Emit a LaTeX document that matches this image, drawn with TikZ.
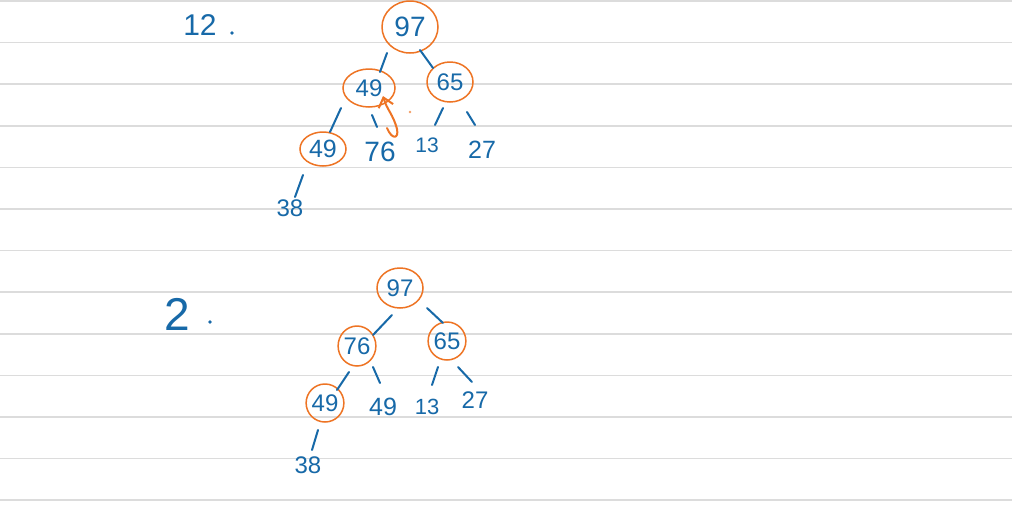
\documentclass[tikz,border=0pt]{standalone}
\usepackage{fontspec}
\setmainfont{Liberation Sans}
\usetikzlibrary{calc,shapes.geometric,arrows.meta}
\definecolor{ink}{HTML}{1769A8}
\definecolor{hl}{HTML}{EE7424}
\definecolor{rulegray}{HTML}{DCDCDC}
\begin{document}
\begin{tikzpicture}[x=1pt,y=-1pt,
  num/.style={text=ink,inner sep=1pt,font=\fontsize{24}{24}\selectfont},
  ring/.style={ellipse,draw=hl,line width=1.5pt,inner sep=0pt},
  edge/.style={draw=ink,line width=2pt,line cap=round}]
\useasboundingbox (0,0) rectangle (1012,512);
\fill[white] (0,0) rectangle (1012,512);
\foreach \k in {0,...,12} \draw[rulegray,line width=1.5pt] (0,{1+41.6*\k}) -- (1012,{1+41.6*\k});

% labels
\node[num,font=\fontsize{30}{30}\selectfont] (l1) at (200,25) {12};
\fill[ink] (232,33) circle (1.8);
\node[num,font=\fontsize{46}{46}\selectfont] (l2) at (177,314) {2};
\fill[ink] (210,322) circle (1.8);

% top tree
\node[num,ring,minimum width=56pt,minimum height=52pt,font=\fontsize{28}{28}\selectfont] (tA) at (410,27) {97};
\node[num,ring,minimum width=52pt,minimum height=38pt] (tB) at (369,88) {49};
\node[num,ring,minimum width=46pt,minimum height=40pt] (tC) at (450,82) {65};
\node[num,ring,minimum width=46pt,minimum height=34pt,font=\fontsize{25}{25}\selectfont] (tD) at (323,149) {49};
\node[num,font=\fontsize{28}{28}\selectfont] (tE) at (380,152) {76};
\node[num,font=\fontsize{21}{21}\selectfont] (tF) at (427,145) {13};
\node[num,font=\fontsize{25}{25}\selectfont] (tG) at (482,150) {27};
\node[num] (tH) at (290,208) {38};

\draw[edge] ($(tA)+(-23,26)$) -- ($(tB)+(11,-16)$);
\draw[edge] ($(tA)+(10,23)$) -- ($(tC)+(-17,-14)$);
\draw[edge] ($(tB)+(-28,20)$) -- ($(tD)+(7,-17)$);
\draw[edge] ($(tB)+(3,27)$) -- ($(tE)+(-3,-25)$);
\draw[edge] ($(tC)+(-7,26)$) -- ($(tF)+(8,-20)$);
\draw[edge] ($(tC)+(17,30)$) -- ($(tG)+(-7,-25)$);
\draw[edge] ($(tD)+(-20,26)$) -- ($(tH)+(5,-11)$);

\draw[hl,line width=2pt,line cap=round,line join=round,-{Straight Barb[length=9pt,width=15pt,line width=2pt]}]
  ($(tE)+(7,-24)$) .. controls ($(tE)+(12,-12)$) and ($(tE)+(19,-13)$) .. ($(tE)+(17,-23)$)
  .. controls ($(tE)+(13,-38)$) and ($(tB)+(18,22)$) .. ($(tB)+(14,8)$);
\fill[hl!70] (410,112) circle (1.4);

% bottom tree
\node[num,ring,minimum width=46pt,minimum height=40pt] (bA) at (400,288) {97};
\node[num,ring,minimum width=34pt,minimum height=40pt] (bB) at (357,346) {76};
\node[num,ring,minimum width=36pt,minimum height=38pt] (bC) at (447,341) {65};
\node[num,ring,minimum width=36pt,minimum height=38pt] (bD) at (325,403) {49};
\node[num,font=\fontsize{25}{25}\selectfont] (bE) at (383,407) {49};
\node[num,font=\fontsize{22}{22}\selectfont] (bF) at (427,407) {13};
\node[num] (bG) at (475,400) {27};
\node[num] (bH) at (308,465) {38};

\draw[edge] ($(bA)+(-8,27)$) -- ($(bB)+(16,-11)$);
\draw[edge] ($(bA)+(27,20)$) -- ($(bC)+(-4,-18)$);
\draw[edge] ($(bB)+(-8,26)$) -- ($(bD)+(12,-13)$);
\draw[edge] ($(bB)+(16,21)$) -- ($(bE)+(-3,-24)$);
\draw[edge] ($(bC)+(-9,26)$) -- ($(bF)+(5,-22)$);
\draw[edge] ($(bC)+(11,26)$) -- ($(bG)+(-3,-18)$);
\draw[edge] ($(bD)+(-7,27)$) -- ($(bH)+(4,-15)$);
\end{tikzpicture}
\end{document}
